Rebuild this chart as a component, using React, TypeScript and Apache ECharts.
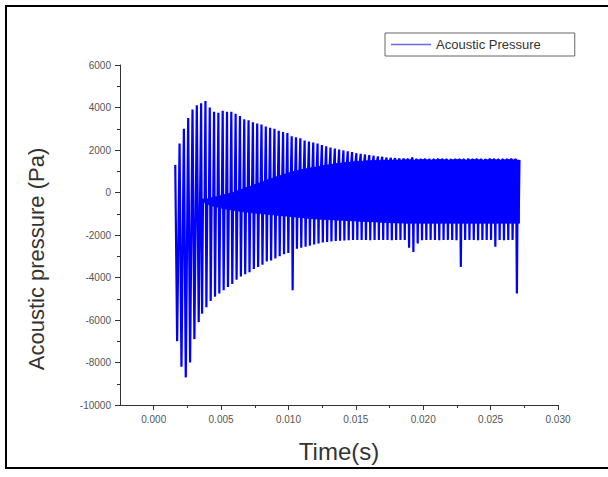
import React, { useEffect, useRef } from "react";
import * as echarts from "echarts";

// Cycle start times (ms) of the pressure oscillation
const T_MS = [
  1.6, 1.92, 2.24, 2.56, 2.88, 3.2, 3.52, 3.84, 4.16, 4.48,
  4.8, 5.12, 5.44, 5.76, 6.08, 6.4, 6.72, 7.04, 7.36, 7.68,
  8.0, 8.32, 8.64, 8.96, 9.28, 9.6, 9.92, 10.24, 10.56, 10.88,
  11.2, 11.52, 11.84, 12.16, 12.48, 12.8, 13.12, 13.44, 13.76, 14.08,
  14.4, 14.72, 15.04, 15.36, 15.68, 16.0, 16.32, 16.64, 16.96, 17.28,
  17.6, 17.92, 18.24, 18.56, 18.88, 19.2, 19.52, 19.84, 20.16, 20.48,
  20.8, 21.12, 21.44, 21.76, 22.08, 22.4, 22.72, 23.04, 23.36, 23.68,
  24.0, 24.32, 24.64, 24.96, 25.28, 25.6, 25.92, 26.24, 26.56, 26.88,
];
// Positive peak of each cycle (Pa)
const PEAKS = [
  1300, 2300, 3000, 3500, 3900, 4100, 4200, 4300, 4000, 3800,
  3750, 3850, 3800, 3800, 3700, 3600, 3450, 3400, 3300, 3250,
  3200, 3100, 3050, 3000, 2900, 2850, 2800, 2650, 2600, 2550,
  2450, 2400, 2350, 2300, 2230, 2180, 2120, 2070, 2020, 1980,
  1940, 1900, 1850, 1820, 1790, 1760, 1730, 1700, 1680, 1650,
  1630, 1620, 1600, 1600, 1590, 1650, 1580, 1570, 1580, 1570,
  1580, 1590, 1570, 1580, 1570, 1580, 1570, 1580, 1590, 1570,
  1580, 1580, 1570, 1590, 1580, 1570, 1580, 1580, 1590, 1580,
];
// Negative trough of each cycle (Pa)
const TROUGHS = [
  -7000, -8200, -8700, -8000, -6900, -6100, -5700, -5400, -5100, -4900,
  -4750, -4600, -4450, -4300, -4100, -3950, -3850, -3750, -3600, -3500,
  -3400, -3250, -3200, -3100, -3000, -2900, -2850, -4600, -2650, -2600,
  -2550, -2500, -2450, -2400, -2350, -2330, -2300, -2280, -2270, -2260,
  -2250, -2240, -2240, -2230, -2240, -2250, -2240, -2230, -2240, -2240,
  -2250, -2240, -2230, -2240, -2600, -2800, -2400, -2250, -2240, -2230,
  -2240, -2250, -2240, -2230, -2240, -2250, -3500, -2240, -2230, -2240,
  -2250, -2240, -2240, -2230, -2550, -2240, -2250, -2240, -2230, -4750,
];
// Upper edge of the dense inner band (Pa)
const BAND_TOP: (number | null)[] = [
  null, null, null, null, null, null, -300, -300, -250, -200,
  -150, -100, -50, 0, 80, 150, 230, 300, 380, 450,
  520, 600, 670, 740, 800, 870, 930, 990, 1040, 1080,
  1120, 1160, 1200, 1240, 1270, 1300, 1330, 1360, 1390, 1410,
  1430, 1450, 1470, 1480, 1490, 1500, 1510, 1510, 1520, 1520,
  1530, 1530, 1530, 1540, 1540, 1530, 1540, 1550, 1540, 1530,
  1540, 1550, 1540, 1530, 1540, 1550, 1540, 1530, 1540, 1550,
  1540, 1530, 1540, 1550, 1540, 1530, 1540, 1550, 1540, 1530,
];
// Lower edge of the dense inner band (Pa)
const BAND_BOTTOM: (number | null)[] = [
  null, null, null, null, null, null, -450, -550, -620, -680,
  -730, -770, -810, -840, -870, -900, -920, -950, -970, -990,
  -1010, -1030, -1050, -1070, -1090, -1110, -1130, -1150, -1170, -1190,
  -1210, -1230, -1250, -1260, -1270, -1280, -1290, -1300, -1310, -1320,
  -1330, -1340, -1350, -1360, -1370, -1380, -1390, -1400, -1410, -1420,
  -1430, -1440, -1440, -1450, -1450, -1450, -1450, -1450, -1450, -1450,
  -1450, -1450, -1450, -1450, -1450, -1450, -1450, -1450, -1450, -1450,
  -1450, -1450, -1450, -1450, -1450, -1450, -1450, -1450, -1450, -1450,
];
// Time offsets inside a cycle (ms): peak, trough, band top, band bottom, band top
const PHASE_MS = [0, 0.07, 0.14, 0.2, 0.26];

const X_MIN = -0.0025;
const X_MAX = 0.03;
const X_LABELS = [0, 0.005, 0.01, 0.015, 0.02, 0.025, 0.03];
const X_MINOR = [0.0025, 0.0075, 0.0125, 0.0175, 0.0225, 0.0275];
const Y_MIN = -10000;
const Y_MAX = 6000;
const Y_STEP = 2000;

const SERIES_NAME = "Acoustic Pressure";
const X_TITLE = "Time(s)";
const Y_TITLE = "Acoustic pressure (Pa)";

function buildData(): [number, number][] {
  const out: [number, number][] = [];
  T_MS.forEach((t, i) => {
    out.push([(t + PHASE_MS[0]) / 1000, PEAKS[i]]);
    const bt = BAND_TOP[i];
    const bb = BAND_BOTTOM[i];
    if (bt == null || bb == null) {
      out.push([(t + PHASE_MS[2]) / 1000, TROUGHS[i]]);
    } else {
      out.push([(t + PHASE_MS[1]) / 1000, TROUGHS[i]]);
      out.push([(t + PHASE_MS[2]) / 1000, bt]);
      out.push([(t + PHASE_MS[3]) / 1000, bb]);
      out.push([(t + PHASE_MS[4]) / 1000, bt]);
    }
  });
  return out;
}

// Band rows: [start time (s), end time (s), top, bottom, next top, next bottom]
function buildBand(): number[][] {
  const rows: number[][] = [];
  T_MS.forEach((t, i) => {
    const bt = BAND_TOP[i];
    const bb = BAND_BOTTOM[i];
    if (bt == null || bb == null) return;
    const last = i === T_MS.length - 1;
    const t2 = last ? t + PHASE_MS[4] : T_MS[i + 1] + PHASE_MS[2];
    const nt = last ? bt : (BAND_TOP[i + 1] as number);
    const nb = last ? bb : (BAND_BOTTOM[i + 1] as number);
    rows.push([(t + PHASE_MS[2]) / 1000, t2 / 1000, bt, bb, nt, nb]);
  });
  return rows;
}

const FONT = '"Liberation Sans", Arial, sans-serif';
const BLUE = "#0000ff";

export default function App() {
  const ref = useRef<HTMLDivElement>(null);
  useEffect(() => {
    if (!ref.current) return;
    const chart = echarts.init(ref.current, undefined, { renderer: "svg" });
    chart.setOption({
      animation: false,
      backgroundColor: "#ffffff",
      textStyle: { fontFamily: FONT },
      grid: { left: 120, right: 50, top: 65, bottom: 72, containLabel: false },
      legend: {
        left: 385,
        top: 33,
        padding: [5, 34, 5, 6],
        borderColor: "#666",
        borderWidth: 1,
        itemWidth: 40,
        itemHeight: 1.5,
        itemGap: 5,
        icon: "rect",
        textStyle: { fontSize: 13, color: "#333", fontFamily: FONT },
        data: [
          {
            name: SERIES_NAME,
            itemStyle: { color: "#6a6aee" },
          },
        ],
      },
      xAxis: [
        {
          type: "value",
          min: X_MIN,
          max: X_MAX,
          axisLine: { show: true, onZero: false, lineStyle: { color: "#333", width: 1 } },
          axisTick: { show: true, customValues: X_LABELS, length: 5, lineStyle: { color: "#333" } },
          axisLabel: {
            customValues: X_LABELS,
            formatter: (v: number) => v.toFixed(3),
            fontSize: 10,
            color: "#555",
            margin: 9,
            fontFamily: FONT,
          },
          splitLine: { show: false },
        },
        {
          type: "value",
          min: X_MIN,
          max: X_MAX,
          position: "bottom",
          axisLine: { show: false, onZero: false },
          axisTick: { show: true, customValues: X_MINOR, length: 3, lineStyle: { color: "#333" } },
          axisLabel: { show: false },
          splitLine: { show: false },
        },
      ],
      yAxis: {
        type: "value",
        min: Y_MIN,
        max: Y_MAX,
        interval: Y_STEP,
        axisLine: { show: true, onZero: false, lineStyle: { color: "#333", width: 1 } },
        axisTick: { show: true, length: 5, lineStyle: { color: "#333" } },
        minorTick: { show: true, splitNumber: 2, length: 3, lineStyle: { color: "#333" } },
        axisLabel: {
          fontSize: 10,
          color: "#555",
          margin: 9,
          fontFamily: FONT,
          formatter: (v: number) => String(v),
        },
        splitLine: { show: false },
      },
      graphic: [
        {
          type: "rect",
          shape: { x: 6, y: 6, width: 640, height: 462 },
          style: { fill: "none", stroke: "#000", lineWidth: 2 },
          silent: true,
        },
        {
          type: "text",
          x: 36,
          y: 259,
          rotation: Math.PI / 2,
          style: {
            text: Y_TITLE,
            font: `22px ${FONT}`,
            fill: "#333",
            textAlign: "center",
            textVerticalAlign: "middle",
          },
        },
        {
          type: "text",
          x: 339,
          y: 451,
          style: {
            text: X_TITLE,
            font: `24px ${FONT}`,
            fill: "#333",
            textAlign: "center",
            textVerticalAlign: "middle",
          },
        },
      ],
      series: [
        {
          name: "band",
          type: "custom",
          xAxisIndex: 0,
          data: buildBand(),
          silent: true,
          z: 1,
          renderItem: (params: any, api: any) => {
            const t1 = api.value(0);
            const t2 = api.value(1);
            const p1 = api.coord([t1, api.value(2)]);
            const p2 = api.coord([t2, api.value(4)]);
            const p3 = api.coord([t2, api.value(5)]);
            const p4 = api.coord([t1, api.value(3)]);
            return {
              type: "polygon",
              shape: { points: [p1, p2, p3, p4] },
              style: { fill: BLUE, stroke: BLUE, lineWidth: 0.5 },
            };
          },
        },
        {
          name: SERIES_NAME,
          type: "line",
          xAxisIndex: 0,
          data: buildData(),
          symbol: "none",
          showSymbol: false,
          lineStyle: { color: BLUE, width: 2.2 },
          itemStyle: { color: BLUE },
          clip: true,
          z: 2,
        },
      ],
    });
    return () => chart.dispose();
  }, []);
  return (
    <div
      ref={ref}
      style={{ position: "fixed", left: 0, top: 0, width: 608, height: 477 }}
    />
  );
}
